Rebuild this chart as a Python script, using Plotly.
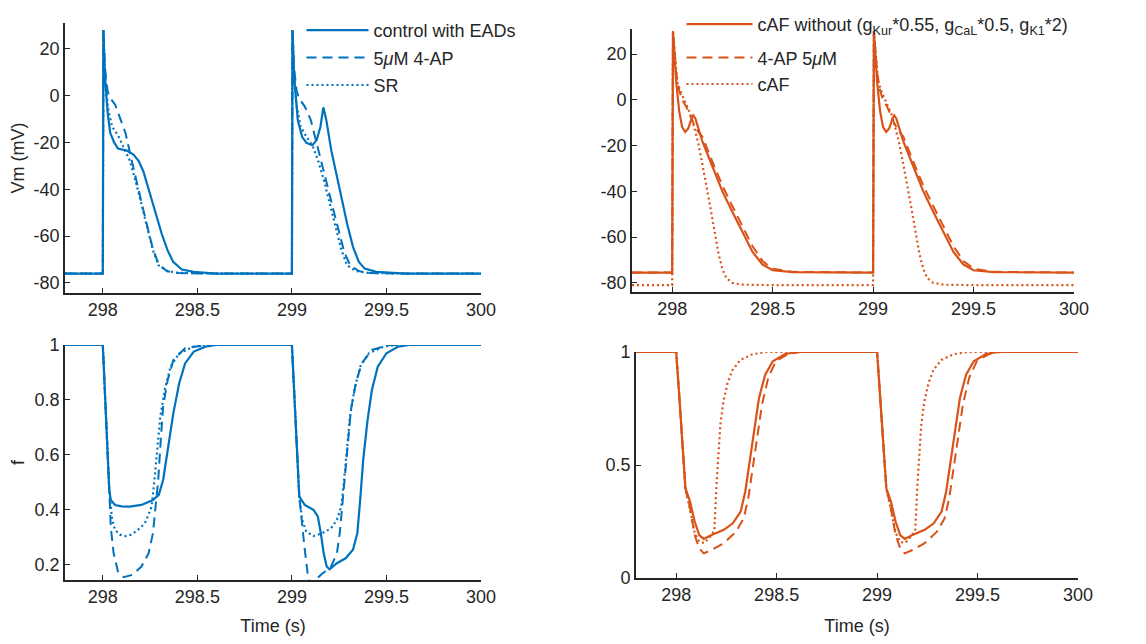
import plotly.graph_objects as go

BLUE = "#0072BD"
ORANGE = "#D95319"
AXC = "#262626"
FONT = "Arial, Liberation Sans, sans-serif"

# ---- top-left: Vm, control vs 4-AP vs SR ----
ctrl_t = [297.8, 298.0, 298.003, 298.011, 298.026, 298.039, 298.06, 298.08, 298.127, 298.162, 298.19, 298.215, 298.249,
          298.28, 298.311, 298.342, 298.372, 298.418, 298.48, 298.6,
          299.0, 299.003, 299.012, 299.031, 299.054, 299.077, 299.108, 299.131, 299.151, 299.166, 299.182, 299.208,
          299.231, 299.262, 299.292, 299.323, 299.354, 299.385, 299.446, 299.6, 300.0]
ctrl_v = [-76, -76, 28, 8, -7.6, -15.9, -20, -22.6, -23.5, -25.2, -28, -32.5, -41.8,
          -50.4, -58.9, -66, -71, -74.3, -75.3, -76,
          -76, 28, 8, -10.5, -17.6, -20.2, -21.2, -19, -13.3, -5, -10.5, -23.3,
          -31.9, -43.3, -54.7, -64.6, -71, -73.9, -75.3, -76, -76]

ap_t = [297.8, 298.0, 298.003, 298.011, 298.025, 298.039, 298.066, 298.092, 298.12, 298.145, 298.172, 298.203,
        298.234, 298.265, 298.295, 298.34, 298.4, 298.6,
        299.0, 299.003, 299.011, 299.025, 299.038, 299.069, 299.1, 299.123, 299.154, 299.185, 299.215, 299.246,
        299.277, 299.308, 299.354, 299.4, 299.6, 300.0]
ap_v = [-76, -76, 28, 12, 2, -1, -4, -9.7, -16, -25, -35, -45,
        -55.5, -65.5, -72, -75, -75.8, -76,
        -76, 28, 12, 2, -1.2, -4.8, -10.5, -17.6, -27.6, -37.6, -47.5, -57.5,
        -66.8, -72.5, -74.9, -75.8, -76, -76]

sr_t = [297.8, 298.0, 298.003, 298.011, 298.026, 298.049, 298.08, 298.11, 298.142, 298.172, 298.203, 298.234,
        298.265, 298.295, 298.34, 298.4, 298.6,
        299.0, 299.003, 299.011, 299.023, 299.046, 299.077, 299.108, 299.138, 299.169, 299.2, 299.231, 299.262,
        299.292, 299.338, 299.4, 299.6, 300.0]
sr_v = [-76, -76, 28, 10, -4.8, -13.3, -16.9, -21.9, -27.6, -36, -46, -56,
        -66, -72.5, -74.9, -75.7, -76,
        -76, 28, 10, -3.4, -13.3, -17.6, -21.2, -27.6, -36.1, -46, -56, -66,
        -72.5, -74.9, -75.7, -76, -76]

# ---- top-right: Vm, cAF variants ----
cafw_t = [297.8, 298.0, 298.004, 298.01, 298.02, 298.035, 298.05, 298.065, 298.08, 298.095, 298.105, 298.115,
          298.13, 298.15, 298.2, 298.25, 298.3, 298.35, 298.4, 298.45, 298.5, 298.6, 298.8,
          299.0, 299.004, 299.01, 299.02, 299.035, 299.05, 299.065, 299.08, 299.095, 299.105, 299.115,
          299.13, 299.15, 299.2, 299.25, 299.3, 299.35, 299.4, 299.45, 299.5, 299.6, 299.8, 300.0]
cafw_v = [-75.5, -75.5, 30, 22, 8, -5, -12, -14, -12.5, -8.5, -6.8, -8,
          -12, -18, -29, -40, -49, -58, -66.5, -72, -74.5, -75.3, -75.5,
          -75.5, 30, 22, 8, -5, -12, -14, -12.5, -8.5, -6.8, -8,
          -12, -18, -29, -40, -49, -58, -66.5, -72, -74.5, -75.3, -75.5, -75.5]

cafap_t = [297.8, 298.0, 298.004, 298.01, 298.02, 298.035, 298.05, 298.07, 298.09, 298.11, 298.13, 298.15,
           298.2, 298.25, 298.3, 298.35, 298.4, 298.45, 298.5, 298.6, 298.8,
           299.0, 299.004, 299.01, 299.02, 299.035, 299.05, 299.07, 299.09, 299.11, 299.13, 299.15,
           299.2, 299.25, 299.3, 299.35, 299.4, 299.45, 299.5, 299.6, 299.8, 300.0]
cafap_v = [-75.5, -75.5, 30, 24, 12, 4, 0, -3, -7, -11, -14, -16,
           -27, -37.5, -46.5, -55.5, -64, -70.5, -73.8, -75.2, -75.5,
           -75.5, 30, 24, 12, 4, 0, -3, -7, -11, -14, -16,
           -27, -37.5, -46.5, -55.5, -64, -70.5, -73.8, -75.2, -75.5, -75.5]

caf_t = [297.8, 298.0, 298.004, 298.012, 298.025, 298.045, 298.07, 298.09, 298.11, 298.13, 298.15, 298.17,
         298.19, 298.21, 298.23, 298.25, 298.27, 298.3, 298.35, 298.5,
         299.0, 299.004, 299.012, 299.025, 299.045, 299.07, 299.09, 299.11, 299.13, 299.15, 299.17,
         299.19, 299.21, 299.23, 299.25, 299.27, 299.3, 299.35, 299.5, 300.0]
caf_v = [-81, -81, 30, 20, 8, 3, -2, -6, -12, -19, -28, -37,
         -47, -57, -67, -74, -78, -80, -80.8, -81,
         -81, 30, 20, 8, 3, -2, -6, -12, -19, -28, -37,
         -47, -57, -67, -74, -78, -80, -80.8, -81, -81]

# ---- bottom-left: f gate ----
ctrlf_t = [297.8, 298.0, 298.034, 298.042, 298.065, 298.1, 298.142, 298.204, 298.265, 298.296, 298.319, 298.343,
           298.373, 298.404, 298.435, 298.481, 298.543, 298.6,
           299.0, 299.039, 299.068, 299.114, 299.137, 299.153, 299.168, 299.184, 299.199, 299.238, 299.284,
           299.323, 299.346, 299.361, 299.377, 299.4, 299.423, 299.454, 299.5, 299.562, 299.62, 300.0]
ctrlf_v = [1, 1, 0.473, 0.436, 0.418, 0.413, 0.412, 0.418, 0.436, 0.455, 0.509, 0.618,
           0.752, 0.861, 0.933, 0.976, 0.994, 1,
           1, 0.448, 0.418, 0.4, 0.376, 0.315, 0.242, 0.194, 0.184, 0.206, 0.224,
           0.255, 0.315, 0.436, 0.582, 0.727, 0.836, 0.921, 0.97, 0.994, 1, 1]

apf_t = [297.8, 298.0, 298.034, 298.042, 298.057, 298.08, 298.111, 298.157, 298.204, 298.242, 298.265, 298.281,
         298.293, 298.304, 298.319, 298.343, 298.373, 298.435, 298.543, 298.6,
         299.0, 299.039, 299.054, 299.068, 299.083, 299.095, 299.11, 299.125, 299.155, 299.207, 299.238, 299.253,
         299.269, 299.281, 299.292, 299.312, 299.338, 299.369, 299.423, 299.515, 299.6, 300.0]
apf_v = [1, 1, 0.473, 0.339, 0.242, 0.176, 0.155, 0.164, 0.194, 0.242, 0.315, 0.412,
         0.509, 0.63, 0.776, 0.873, 0.945, 0.988, 1, 1,
         1, 0.448, 0.339, 0.255, 0.17, 0.13, 0.13, 0.145, 0.165, 0.194, 0.242, 0.315,
         0.436, 0.533, 0.63, 0.764, 0.861, 0.933, 0.982, 1, 1, 1]

srf_t = [297.8, 298.0, 298.034, 298.049, 298.065, 298.09, 298.119, 298.15, 298.173, 298.2, 298.227, 298.258,
         298.273, 298.289, 298.304, 298.327, 298.358, 298.404, 298.481, 298.543, 298.6,
         299.0, 299.039, 299.054, 299.076, 299.114, 299.16, 299.207, 299.238, 299.261, 299.276, 299.292,
         299.307, 299.33, 299.361, 299.407, 299.485, 299.546, 300.0]
srf_v = [1, 1, 0.473, 0.364, 0.327, 0.31, 0.305, 0.31, 0.321, 0.335, 0.358, 0.412,
         0.509, 0.63, 0.739, 0.836, 0.921, 0.97, 0.994, 1, 1,
         1, 0.448, 0.364, 0.321, 0.305, 0.315, 0.333, 0.364, 0.412, 0.509, 0.63,
         0.739, 0.836, 0.921, 0.97, 0.994, 1, 1]

# ---- bottom-right: f gate, cAF ----
cafwf_t = [297.8, 298.0, 298.015, 298.031, 298.046, 298.069, 298.092, 298.115, 298.137, 298.176, 298.237, 298.282,
           298.321, 298.344, 298.366, 298.389, 298.412, 298.443, 298.481, 298.542, 298.603,
           299.0, 299.015, 299.031, 299.046, 299.069, 299.092, 299.115, 299.137, 299.176, 299.237, 299.282,
           299.321, 299.344, 299.366, 299.389, 299.412, 299.443, 299.481, 299.542, 299.603, 300.0]
cafwf_v = [1, 1, 0.81, 0.589, 0.397, 0.338, 0.25, 0.19, 0.173, 0.19, 0.213, 0.242,
           0.294, 0.383, 0.516, 0.663, 0.796, 0.9, 0.959, 0.991, 1,
           1, 0.81, 0.589, 0.397, 0.338, 0.25, 0.19, 0.173, 0.19, 0.213, 0.242,
           0.294, 0.383, 0.516, 0.663, 0.796, 0.9, 0.959, 0.991, 1, 1]

cafapf_t = [297.8, 298.0, 298.015, 298.031, 298.046, 298.069, 298.092, 298.115, 298.137, 298.176, 298.237, 298.298,
            298.336, 298.359, 298.382, 298.405, 298.427, 298.458, 298.496, 298.557, 298.618,
            299.0, 299.015, 299.031, 299.046, 299.069, 299.092, 299.115, 299.137, 299.176, 299.237, 299.298,
            299.336, 299.359, 299.382, 299.405, 299.427, 299.458, 299.496, 299.557, 299.618, 300.0]
cafapf_v = [1, 1, 0.81, 0.589, 0.397, 0.309, 0.19, 0.131, 0.109, 0.124, 0.154, 0.205,
            0.264, 0.353, 0.486, 0.634, 0.767, 0.885, 0.959, 0.991, 1,
            1, 0.81, 0.589, 0.397, 0.309, 0.19, 0.131, 0.109, 0.124, 0.154, 0.205,
            0.264, 0.353, 0.486, 0.634, 0.767, 0.885, 0.959, 0.991, 1, 1]

caff_t = [297.8, 298.0, 298.015, 298.031, 298.046, 298.069, 298.092, 298.115, 298.14, 298.17, 298.19, 298.2,
          298.21, 298.22, 298.235, 298.255, 298.28, 298.32, 298.38, 298.45,
          299.0, 299.015, 299.031, 299.046, 299.069, 299.092, 299.115, 299.14, 299.17, 299.19, 299.2,
          299.21, 299.22, 299.235, 299.255, 299.28, 299.32, 299.38, 299.45, 300.0]
caff_v = [1, 1, 0.81, 0.589, 0.397, 0.3, 0.2, 0.16, 0.155, 0.185, 0.21, 0.4,
          0.57, 0.68, 0.78, 0.86, 0.92, 0.965, 0.99, 1,
          1, 0.81, 0.589, 0.397, 0.3, 0.2, 0.16, 0.155, 0.185, 0.21, 0.4,
          0.57, 0.68, 0.78, 0.86, 0.92, 0.965, 0.99, 1, 1]

x_ticks = [298, 298.5, 299, 299.5, 300]
x_ticktext = ["298", "298.5", "299", "299.5", "300"]
vm_ticks = [-80, -60, -40, -20, 0, 20]
vm_ticktext = ["-80", "-60", "-40", "-20", "0", "20"]
f_ticks_left = [0.2, 0.4, 0.6, 0.8, 1]
f_ticktext_left = ["0.2", "0.4", "0.6", "0.8", "1"]
f_ticks_right = [0, 0.5, 1]
f_ticktext_right = ["0", "0.5", "1"]

SOLID = "solid"
DASH = "10px,6px"
DOT = "2px,3px"

fig = go.Figure()


def add_line(x, y, color, dash, axes, name=None, legend=None, group=None):
    xa, ya = axes
    fig.add_trace(go.Scatter(
        x=x, y=y, mode="lines", xaxis=xa, yaxis=ya,
        line=dict(color=color, width=2.2 if dash != DASH else 2, dash=dash),
        name=name, showlegend=name is not None,
        legend=legend, legendgroup=group,
    ))


add_line(ctrl_t, ctrl_v, BLUE, SOLID, ("x", "y"), "control with EADs", "legend", "a1")
add_line(ap_t, ap_v, BLUE, DASH, ("x", "y"), "5<i>μ</i>M 4-AP", "legend", "a2")
add_line(sr_t, sr_v, BLUE, DOT, ("x", "y"), "SR", "legend", "a3")

# first entry has subscripts, so it sits in its own group with a wider gap below
add_line(cafw_t, cafw_v, ORANGE, SOLID, ("x2", "y2"),
         "cAF without (g<sub>Kur</sub>*0.55, g<sub>CaL</sub>*0.5, g<sub>K1</sub>*2)", "legend2", "b1")
add_line(cafap_t, cafap_v, ORANGE, DASH, ("x2", "y2"), "4-AP 5<i>μ</i>M", "legend2", "b2")
add_line(caf_t, caf_v, ORANGE, DOT, ("x2", "y2"), "cAF", "legend2", "b2")

add_line(ctrlf_t, ctrlf_v, BLUE, SOLID, ("x3", "y3"))
add_line(apf_t, apf_v, BLUE, DASH, ("x3", "y3"))
add_line(srf_t, srf_v, BLUE, DOT, ("x3", "y3"))

add_line(cafwf_t, cafwf_v, ORANGE, SOLID, ("x4", "y4"))
add_line(cafapf_t, cafapf_v, ORANGE, DASH, ("x4", "y4"))
add_line(caff_t, caff_v, ORANGE, DOT, ("x4", "y4"))

# page is 1146x644; body keeps its 8px margin, so the figure itself is 16px smaller
OFF = 8
W, H = 1146 - 2 * OFF, 644 - 2 * OFF


def px(x0, x1):
    return [(x0 - OFF) / W, (x1 - OFF) / W]


def py(ytop, ybot):
    return [1 - (ybot - OFF) / H, 1 - (ytop - OFF) / H]


ax_common = dict(showline=True, linecolor=AXC, linewidth=1.6, ticks="inside", ticklen=5,
                 tickwidth=1.2, tickcolor=AXC, showgrid=False, zeroline=False, mirror=False,
                 automargin=False, tickfont=dict(family=FONT, size=18, color=AXC))

xcommon = dict(ax_common, range=[297.8, 300], tickvals=x_ticks, ticktext=x_ticktext)
title_font = dict(family=FONT, size=18, color=AXC)
legend_common = dict(xanchor="left", yanchor="top", bgcolor="rgba(0,0,0,0)", borderwidth=0,
                     traceorder="grouped", font=dict(family=FONT, size=18, color=AXC))

fig.update_layout(
    width=W, height=H,
    margin=dict(l=0, r=0, t=0, b=0, autoexpand=False),
    paper_bgcolor="white", plot_bgcolor="white",
    font=dict(family=FONT, size=18, color=AXC),
    xaxis=dict(xcommon, domain=px(65, 481), anchor="y"),
    yaxis=dict(ax_common, domain=py(23, 293), anchor="x", range=[-84.3, 31],
               tickvals=vm_ticks, ticktext=vm_ticktext,
               title=dict(text="Vm (mV)", standoff=4, font=title_font)),
    xaxis2=dict(xcommon, domain=px(632, 1074), anchor="y2"),
    yaxis2=dict(ax_common, domain=py(29, 292), anchor="x2", range=[-84, 31],
                tickvals=vm_ticks, ticktext=vm_ticktext),
    xaxis3=dict(xcommon, domain=px(65, 481), anchor="y3",
                title=dict(text="Time (s)", standoff=15, font=title_font)),
    yaxis3=dict(ax_common, domain=py(345, 580), anchor="x3", range=[0.145, 1.0],
                tickvals=f_ticks_left, ticktext=f_ticktext_left,
                title=dict(text="f", standoff=5, font=title_font)),
    xaxis4=dict(xcommon, domain=px(636, 1078), anchor="y4",
                title=dict(text="Time (s)", standoff=15, font=title_font)),
    yaxis4=dict(ax_common, domain=py(352, 578), anchor="x4", range=[0, 1.0],
                tickvals=f_ticks_right, ticktext=f_ticktext_right),
    legend=dict(legend_common, x=(308 - OFF - 6.5) / W, y=1 - 4 / H, itemwidth=62, tracegroupgap=1),
    legend2=dict(legend_common, x=(688 - OFF - 6.5) / W, y=1 + 2 / H, itemwidth=66, tracegroupgap=7),
)

fig.write_html("out.html")
